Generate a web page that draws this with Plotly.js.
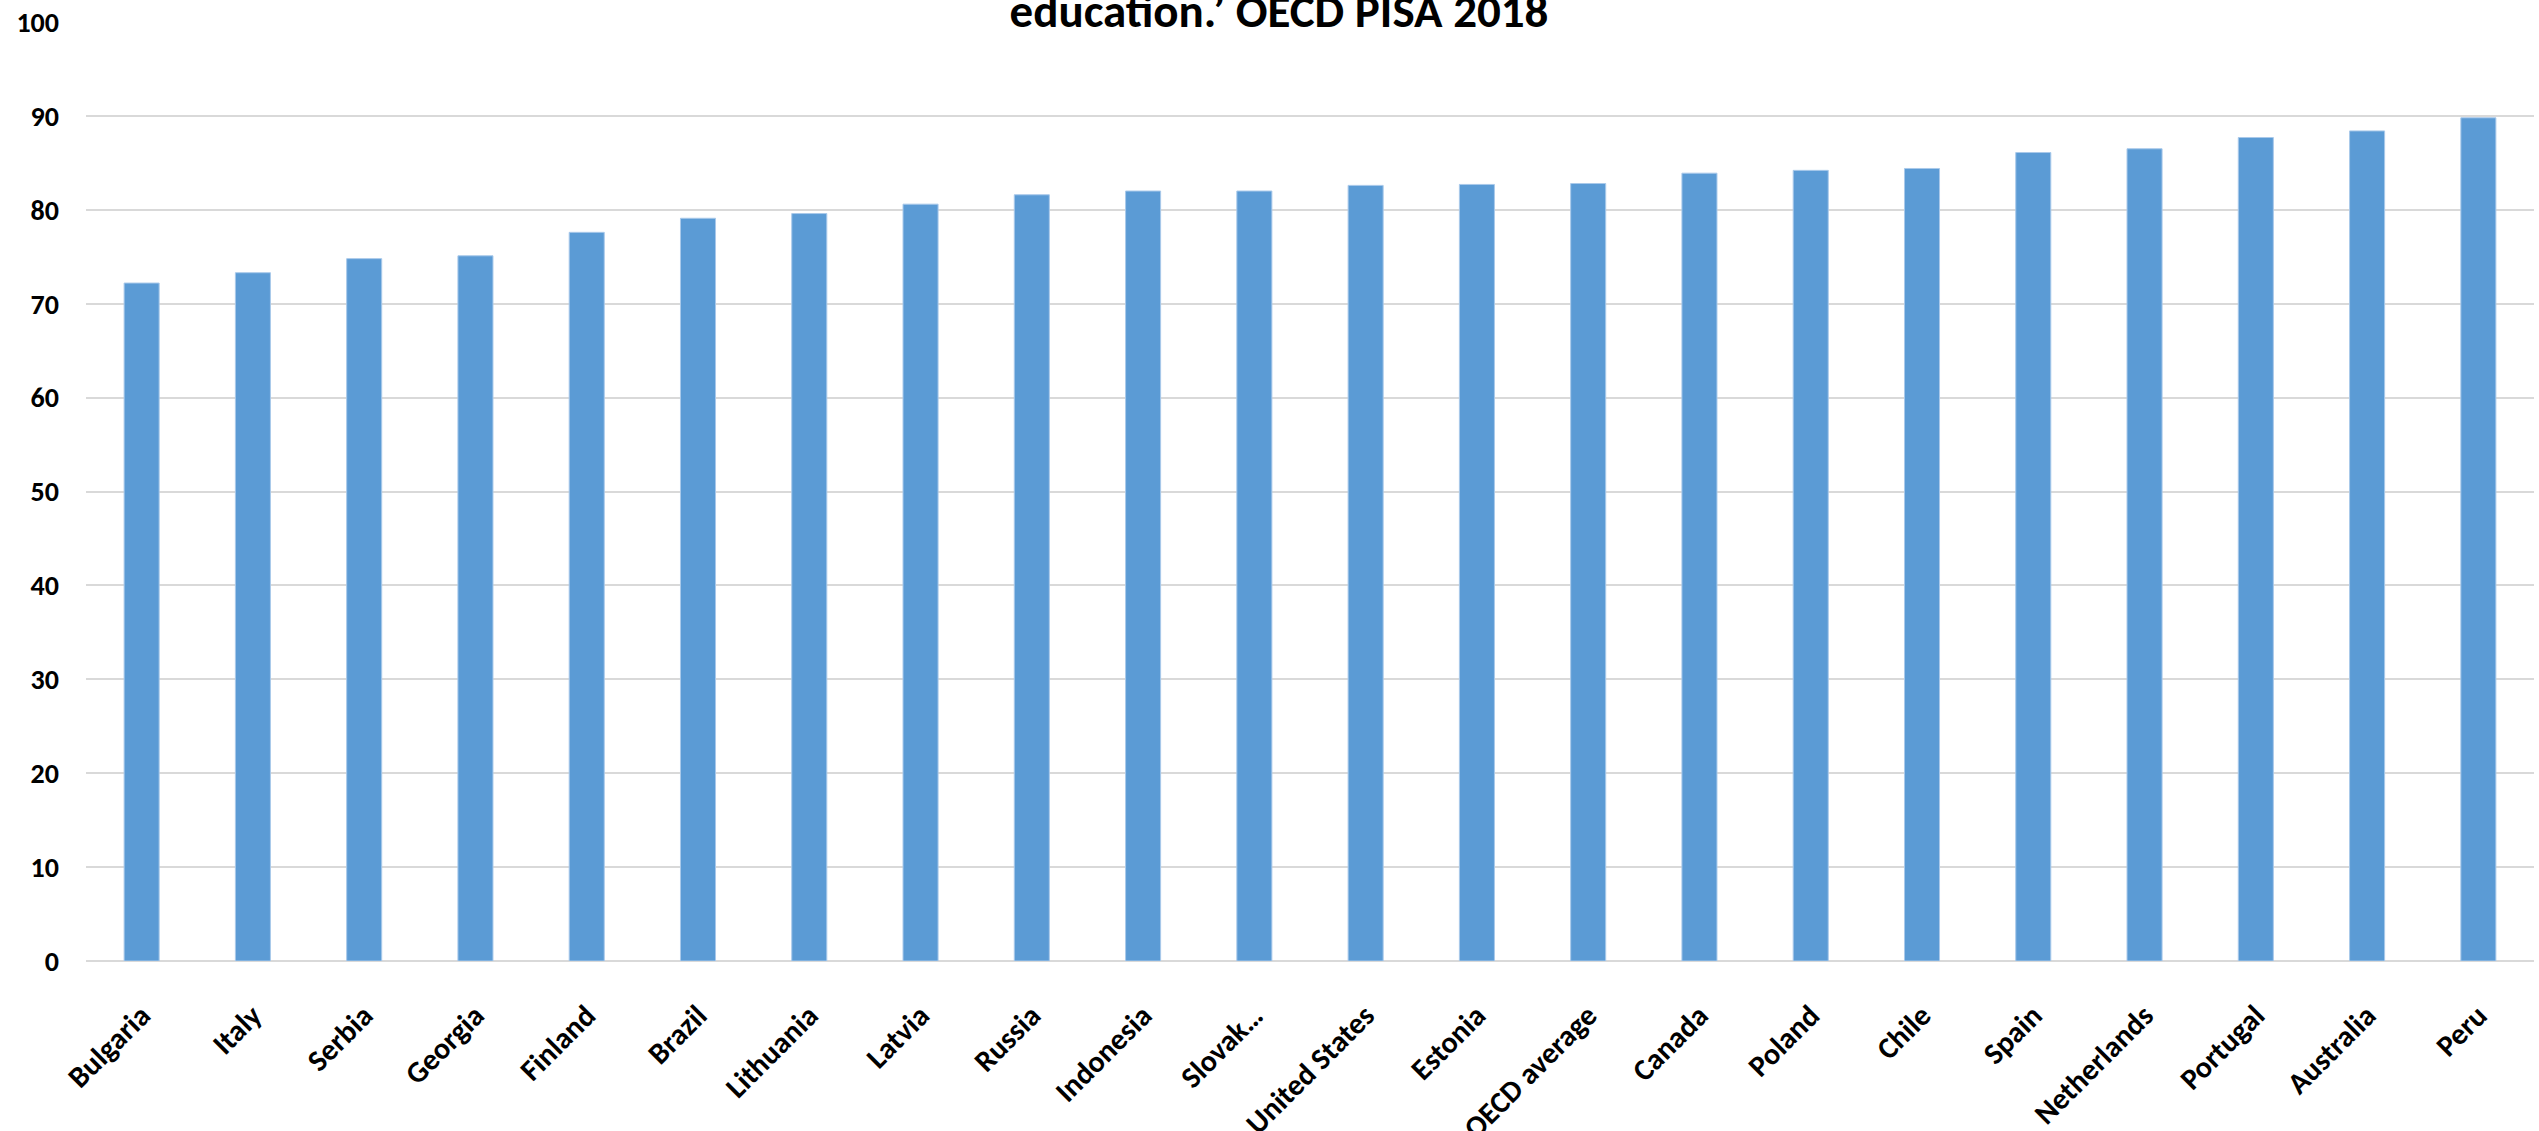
<!DOCTYPE html>
<html>
<head>
<meta charset="utf-8">
<script src="https://cdn.plot.ly/plotly-3.0.1.min.js"></script>
<style>
  html, body { margin: 0; padding: 0; background: #ffffff; }
  #chart { width: 2539px; height: 1131px; }
</style>
</head>
<body>
<div id="chart"></div>
<script>
const countries = ["Bulgaria", "Italy", "Serbia", "Georgia", "Finland", "Brazil", "Lithuania", "Latvia", "Russia", "Indonesia", "Slovak…", "United States", "Estonia", "OECD average", "Canada", "Poland", "Chile", "Spain", "Netherlands", "Portugal", "Australia", "Peru"];
const shares = [72.2, 73.3, 74.8, 75.1, 77.6, 79.1, 79.6, 80.6, 81.6, 82.0, 82.0, 82.6, 82.7, 82.8, 83.9, 84.2, 84.4, 86.1, 86.5, 87.7, 88.4, 89.8];
const yTicks = [0, 10, 20, 30, 40, 50, 60, 70, 80, 90, 100];
const titleText = "education.’ OECD PISA 2018";

const FONT = "Carlito, Calibri, Lato, 'Open Sans', sans-serif";

const trace = {
  type: "bar",
  x: countries,
  y: shares,
  marker: { color: "#5b9bd5", line: { color: "#a9c9ea", width: 1 } },
  hoverinfo: "x+y"
};

const layout = {
  width: 2539,
  height: 1131,
  paper_bgcolor: "#ffffff",
  plot_bgcolor: "#ffffff",
  margin: { l: 86, r: 5, t: 22, b: 170, pad: 0 },
  bargap: 0.685,
  showlegend: false,
  font: { family: FONT, color: "#000000" },
  title: {
    text: "<b>" + titleText + "</b>",
    font: { family: FONT, size: 47, color: "#000000" },
    x: 1279 / 2539, xref: "container", xanchor: "center",
    y: 1 - 10.5 / 1131, yref: "container", yanchor: "middle"
  },
  xaxis: {
    type: "category",
    tickangle: -45,
    tickfont: { family: FONT, size: 30, color: "#000000", weight: "bold" },
    ticks: "",
    ticklabelstandoff: 30,
    showgrid: false,
    showline: false,
    zeroline: false,
    automargin: false
  },
  yaxis: {
    range: [0, 100],
    tickvals: yTicks,
    ticktext: yTicks.map(String),
    tickfont: { family: FONT, size: 28, color: "#000000", weight: "bold" },
    ticks: "",
    ticklabelstandoff: 26,
    showgrid: true,
    gridcolor: "#d9d9d9",
    gridwidth: 2,
    zeroline: true,
    zerolinecolor: "#d9d9d9",
    zerolinewidth: 2,
    showline: false,
    automargin: false,
    fixedrange: true
  }
};

Plotly.newPlot("chart", [trace], layout, { displayModeBar: false, staticPlot: true });
</script>
</body>
</html>
